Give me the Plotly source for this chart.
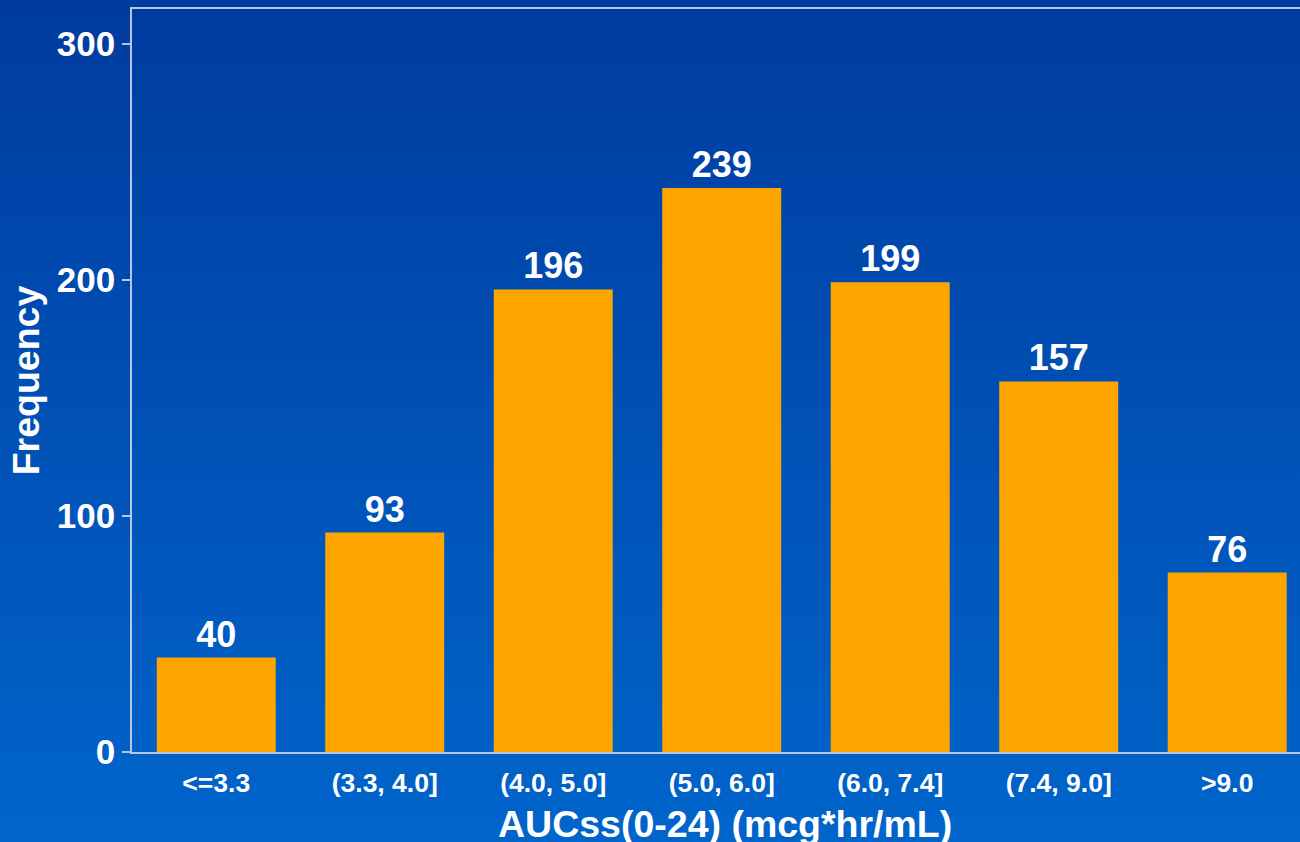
import base64
import plotly.graph_objects as go

categories = ["<=3.3", "(3.3, 4.0]", "(4.0, 5.0]", "(5.0, 6.0]", "(6.0, 7.4]", "(7.4, 9.0]", ">9.0"]
frequency = [40, 93, 196, 239, 199, 157, 76]
y_ticks = [0, 100, 200, 300]

x_title = "AUCss(0-24) (mcg*hr/mL)"
y_title = "Frequency"

FONT = "Liberation Sans, Arial, sans-serif"
AXIS_COLOR = "#b9c6e3"

svg = (
    '<svg xmlns="http://www.w3.org/2000/svg" width="100" height="100" preserveAspectRatio="none">'
    '<defs><linearGradient id="g" x1="0" y1="0" x2="0" y2="1">'
    '<stop offset="0" stop-color="#003a9e"/><stop offset="1" stop-color="#0066cc"/>'
    '</linearGradient></defs><rect width="100" height="100" fill="url(#g)"/></svg>'
)
bg_uri = "data:image/svg+xml;base64," + base64.b64encode(svg.encode()).decode()

fig = go.Figure(
    go.Bar(
        x=categories,
        y=frequency,
        marker=dict(color="#ffa500", line=dict(width=0)),
        text=frequency,
        textposition="outside",
        textfont=dict(family=FONT, size=36, color="white", weight="bold"),
        cliponaxis=False,
        hoverinfo="skip",
    )
)

fig.update_layout(
    width=1300,
    height=842,
    margin=dict(l=132, r=0, t=9, b=90),
    paper_bgcolor="#0050b5",
    plot_bgcolor="rgba(0,0,0,0)",
    bargap=0.294,
    showlegend=False,
    font=dict(family=FONT, color="white"),
    images=[
        dict(
            source=bg_uri,
            xref="paper", yref="paper",
            x=-0.2, y=1.05, sizex=1.4, sizey=1.2,
            xanchor="left", yanchor="top",
            sizing="stretch", layer="below",
        )
    ],
    annotations=[
        dict(
            text=f"<b>{x_title}</b>",
            xref="paper", yref="paper",
            x=0.508, y=-0.0965,
            xanchor="center", yanchor="middle",
            showarrow=False,
            font=dict(family=FONT, size=37.5, color="white"),
        )
    ],
)

fig.update_xaxes(
    range=[-0.5, 6.432],
    showline=True, mirror=True, linecolor=AXIS_COLOR, linewidth=1.5,
    showgrid=False, zeroline=False,
    ticks="outside", ticklen=6, tickcolor="rgba(0,0,0,0)",
    tickfont=dict(family=FONT, size=26.5, color="white", weight="bold"),
)

fig.update_yaxes(
    range=[0, 314.8],
    tickvals=y_ticks,
    showline=True, linecolor=AXIS_COLOR, linewidth=1.5,
    showgrid=False, zeroline=False,
    ticks="outside", ticklen=8, tickcolor=AXIS_COLOR, tickwidth=1.5,
    tickfont=dict(family=FONT, size=35, color="white", weight="bold"),
    title=dict(text=f"<b>{y_title}</b>", font=dict(family=FONT, size=37.5, color="white"), standoff=6),
)

fig.write_html("out.html")
